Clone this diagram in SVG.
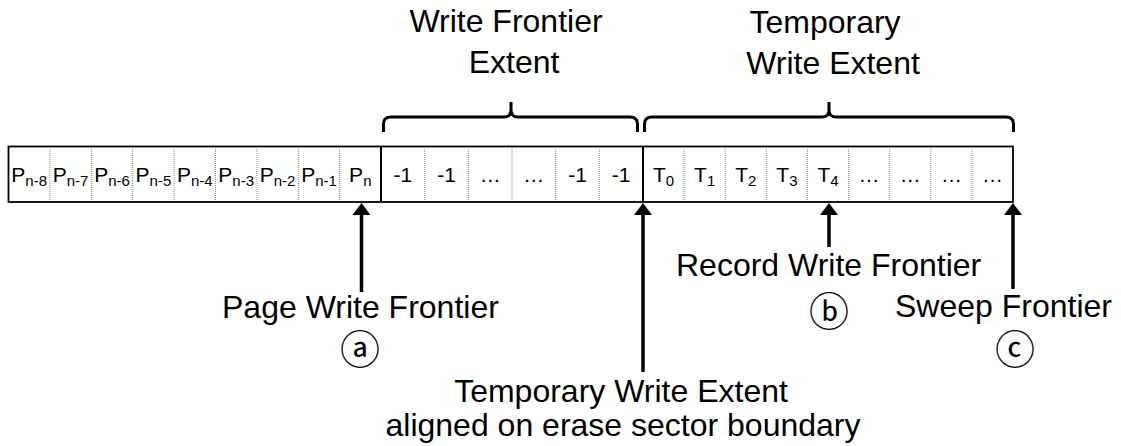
<svg xmlns="http://www.w3.org/2000/svg" width="1121" height="446" viewBox="0 0 1121 446">
<defs>
<style>
.lbl{font-family:"Liberation Sans",Arial,sans-serif;font-size:32px;fill:#000}
.cell{font-family:"Liberation Sans",Arial,sans-serif;font-size:21px;fill:#000;text-anchor:middle}
.sub{font-size:15px}
.circ{font-family:"Noto Sans CJK JP","DejaVu Sans",sans-serif;font-size:40px;fill:#000;text-anchor:middle}
.div{stroke:#8a8a8a;stroke-width:1;stroke-dasharray:1 1;fill:none}
.frame{stroke:#000;stroke-width:1.8;fill:#fff}
.thick{stroke:#000;stroke-width:2;fill:none}
.brace{stroke:#000;stroke-width:3;fill:none;stroke-linejoin:round}
.arr{stroke:#000;stroke-width:3.5;fill:none}
</style>
<marker id="ah" markerUnits="userSpaceOnUse" markerWidth="12" markerHeight="18" viewBox="0 0 12 18" refX="5" refY="9" orient="auto">
<path d="M0,0 L12,9 L0,18 Z" fill="#000"/>
</marker>
</defs>

<g id="strip">
<rect class="frame" x="8.5" y="146.5" width="1004.5" height="55.5"/>
<g id="dividers">
<line class="div" x1="49.9" y1="147" x2="49.9" y2="201"/>
<line class="div" x1="91.3" y1="147" x2="91.3" y2="201"/>
<line class="div" x1="132.7" y1="147" x2="132.7" y2="201"/>
<line class="div" x1="174.1" y1="147" x2="174.1" y2="201"/>
<line class="div" x1="215.5" y1="147" x2="215.5" y2="201"/>
<line class="div" x1="256.9" y1="147" x2="256.9" y2="201"/>
<line class="div" x1="298.3" y1="147" x2="298.3" y2="201"/>
<line class="div" x1="339.6" y1="147" x2="339.6" y2="201"/>
<line class="div" x1="424.7" y1="147" x2="424.7" y2="201"/>
<line class="div" x1="468.3" y1="147" x2="468.3" y2="201"/>
<line class="div" x1="512" y1="147" x2="512" y2="201"/>
<line class="div" x1="555.7" y1="147" x2="555.7" y2="201"/>
<line class="div" x1="599.3" y1="147" x2="599.3" y2="201"/>
<line class="div" x1="684.1" y1="147" x2="684.1" y2="201"/>
<line class="div" x1="725.2" y1="147" x2="725.2" y2="201"/>
<line class="div" x1="766.3" y1="147" x2="766.3" y2="201"/>
<line class="div" x1="807.4" y1="147" x2="807.4" y2="201"/>
<line class="div" x1="848.6" y1="147" x2="848.6" y2="201"/>
<line class="div" x1="889.7" y1="147" x2="889.7" y2="201"/>
<line class="div" x1="930.8" y1="147" x2="930.8" y2="201"/>
<line class="div" x1="971.9" y1="147" x2="971.9" y2="201"/>
<line class="thick" x1="381" y1="146.5" x2="381" y2="202"/>
<line class="thick" x1="643" y1="146.5" x2="643" y2="202"/>
</g>
</g>

<g id="page-cells">
<g id="cell-pn8"><text class="cell" x="29.2" y="182">P<tspan class="sub" dy="4">n-8</tspan></text></g>
<g id="cell-pn7"><text class="cell" x="70.6" y="182">P<tspan class="sub" dy="4">n-7</tspan></text></g>
<g id="cell-pn6"><text class="cell" x="112" y="182">P<tspan class="sub" dy="4">n-6</tspan></text></g>
<g id="cell-pn5"><text class="cell" x="153.4" y="182">P<tspan class="sub" dy="4">n-5</tspan></text></g>
<g id="cell-pn4"><text class="cell" x="194.8" y="182">P<tspan class="sub" dy="4">n-4</tspan></text></g>
<g id="cell-pn3"><text class="cell" x="236.2" y="182">P<tspan class="sub" dy="4">n-3</tspan></text></g>
<g id="cell-pn2"><text class="cell" x="277.6" y="182">P<tspan class="sub" dy="4">n-2</tspan></text></g>
<g id="cell-pn1"><text class="cell" x="319" y="182">P<tspan class="sub" dy="4">n-1</tspan></text></g>
<g id="cell-pn"><text class="cell" x="360.3" y="182">P<tspan class="sub" dy="4">n</tspan></text></g>
</g>

<g id="frontier-cells">
<g id="cell-f1"><text class="cell" x="402.8" y="182">-1</text></g>
<g id="cell-f2"><text class="cell" x="446.5" y="182">-1</text></g>
<g id="cell-f3"><text class="cell" x="490.2" y="182">…</text></g>
<g id="cell-f4"><text class="cell" x="533.8" y="182">…</text></g>
<g id="cell-f5"><text class="cell" x="577.5" y="182">-1</text></g>
<g id="cell-f6"><text class="cell" x="621.2" y="182">-1</text></g>
</g>

<g id="temp-cells">
<g id="cell-t0"><text class="cell" x="663.6" y="182">T<tspan class="sub" dy="4">0</tspan></text></g>
<g id="cell-t1"><text class="cell" x="704.7" y="182">T<tspan class="sub" dy="4">1</tspan></text></g>
<g id="cell-t2"><text class="cell" x="745.8" y="182">T<tspan class="sub" dy="4">2</tspan></text></g>
<g id="cell-t3"><text class="cell" x="786.9" y="182">T<tspan class="sub" dy="4">3</tspan></text></g>
<g id="cell-t4"><text class="cell" x="828" y="182">T<tspan class="sub" dy="4">4</tspan></text></g>
<g id="cell-t5"><text class="cell" x="869.1" y="182">…</text></g>
<g id="cell-t6"><text class="cell" x="910.2" y="182">…</text></g>
<g id="cell-t7"><text class="cell" x="951.4" y="182">…</text></g>
<g id="cell-t8"><text class="cell" x="992.5" y="182">…</text></g>
</g>

<g id="brace-write-frontier">
<path class="brace" d="M383.5,132 L383.5,124 Q383.5,117 391,117 L504,117 Q511,117 511,110 L511,102 M511,110 Q511,117 518,117 L630,117 Q637.5,117 637.5,124 L637.5,132"/>
<text class="lbl" x="506" y="32" text-anchor="middle">Write Frontier</text>
<text class="lbl" x="514" y="73" text-anchor="middle">Extent</text>
</g>

<g id="brace-temporary">
<path class="brace" d="M644.5,132 L644.5,124 Q644.5,117 652,117 L822,117 Q829,117 829,110 L829,102 M829,110 Q829,117 836,117 L1006,117 Q1013.5,117 1013.5,124 L1013.5,132"/>
<text class="lbl" x="825" y="33" text-anchor="middle">Temporary</text>
<text class="lbl" x="833" y="74" text-anchor="middle">Write Extent</text>
</g>

<g id="connectors">
<line class="arr" x1="361.5" y1="292" x2="361.5" y2="210" marker-end="url(#ah)"/>
<line class="arr" x1="643" y1="372" x2="643" y2="210" marker-end="url(#ah)"/>
<line class="arr" x1="829" y1="247" x2="829" y2="210" marker-end="url(#ah)"/>
<line class="arr" x1="1013" y1="289" x2="1013" y2="210" marker-end="url(#ah)"/>
</g>

<g id="label-page-write-frontier">
<text class="lbl" x="222" y="318">Page Write Frontier</text>
<text class="circ" x="360" y="364">ⓐ</text>
</g>
<g id="label-record-write-frontier">
<text class="lbl" x="676" y="276">Record Write Frontier</text>
<text class="circ" x="829" y="326">ⓑ</text>
</g>
<g id="label-sweep-frontier">
<text class="lbl" x="895" y="317">Sweep Frontier</text>
<text class="circ" x="1015" y="364">ⓒ</text>
</g>
<g id="label-temp-extent">
<text class="lbl" x="621" y="402" text-anchor="middle">Temporary Write Extent</text>
<text class="lbl" x="623" y="436" text-anchor="middle">aligned on erase sector boundary</text>
</g>
</svg>
